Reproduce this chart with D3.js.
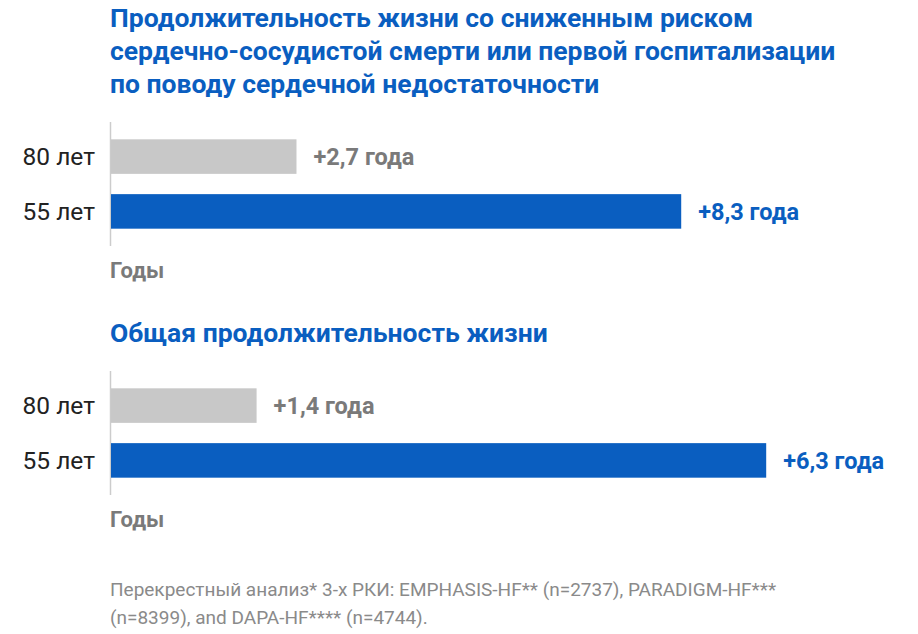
<!DOCTYPE html><html><head><meta charset="utf-8"><script src="https://cdn.jsdelivr.net/npm/d3@7"></script>
<style>body{margin:0;background:#fff}</style></head><body><svg id="c" width="918" height="634"></svg>
<script>
const categories=["80 лет","55 лет"];
const values1=[2.7,8.3];
const values2=[1.4,6.3];
const labels1=["+2,7 года","+8,3 года"];
const labels2=["+1,4 года","+6,3 года"];
const titles1=["Продолжительность жизни со сниженным риском","сердечно-сосудистой смерти или первой госпитализации","по поводу сердечной недостаточности"];
const titles2=["Общая продолжительность жизни"];
const footnote=["Перекрестный анализ* 3-х РКИ: EMPHASIS-HF** (n=2737), PARADIGM-HF***","(n=8399), and DAPA-HF**** (n=4744)."];
const axisLabel="Годы";
const colors=["#c8c8c8","#0a5ec0"];
const labelColors=["#7a7a7a","#0a5ec0"];
const svg=d3.select("#c");
const F="Roboto, sans-serif";
function title(lines,y0){lines.forEach((t,i)=>svg.append("text").attr("x",110).attr("y",y0+i*33).attr("font-family",F).attr("font-weight",700).attr("font-size",26.5).attr("fill","#0a5ec0").text(t));}
function chart(vals,labs,top,pxPerUnit){
  const x=d3.scaleLinear().domain([0,1]).range([110,110+pxPerUnit]);
  const y=d3.scaleBand().domain(categories).range([top,top+108]).paddingInner(0.37).paddingOuter(0.17);
  const g=svg.append("g");
  g.append("line").attr("x1",110.5).attr("x2",110.5).attr("y1",top-8).attr("y2",top+116).attr("stroke","#ccc").attr("stroke-width",1.5);
  categories.forEach((c,i)=>{
    g.append("rect").attr("x",x(0)+1).attr("y",y(c)).attr("width",x(vals[i])-x(0)).attr("height",y.bandwidth()).attr("fill",colors[i]);
    g.append("text").attr("x",95).attr("y",y(c)+y.bandwidth()/2).attr("dy","0.35em").attr("text-anchor","end").attr("font-family",F).attr("font-size",24.5).attr("fill","#222").text(c);
    g.append("text").attr("x",x(vals[i])+18).attr("y",y(c)+y.bandwidth()/2).attr("dy","0.35em").attr("font-family",F).attr("font-weight",700).attr("font-size",23.5).attr("fill",labelColors[i]).text(labs[i]);
  });
  g.append("text").attr("x",110).attr("y",top+148).attr("font-family",F).attr("font-weight",700).attr("font-size",22).attr("fill","#7a7a7a").text(axisLabel);
}
title(titles1,27);
chart(values1,labels1,130,68.7);
title(titles2,342);
chart(values2,labels2,379,104);
footnote.forEach((t,i)=>svg.append("text").attr("x",110).attr("y",596+i*28).attr("font-family",F).attr("font-size",19).attr("fill","#8a8a8a").text(t));
</script></body></html>
